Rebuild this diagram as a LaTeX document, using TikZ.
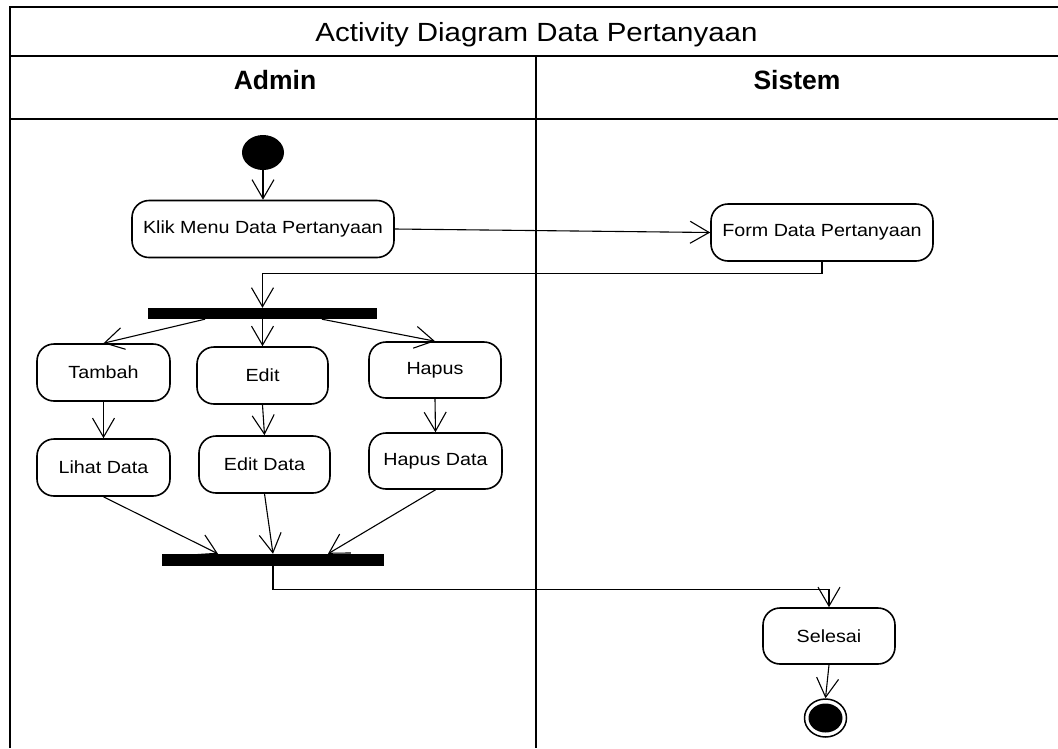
\documentclass[tikz,border=0pt]{standalone}
\usepackage{fontspec}
\setmainfont{Liberation Sans}[FakeStretch=1.12]
\newfontfamily\hdfont{Liberation Sans}
\usetikzlibrary{arrows.meta,shapes.geometric}
\begin{document}
\begin{tikzpicture}[x=1pt,y=-1pt,
  act/.style={draw, line width=1.6pt, rounded corners=17pt, minimum height=57pt, inner sep=0pt, font=\fontsize{17.6}{20}\selectfont},
  bar/.style={fill=black, inner sep=0pt},
  conn/.style={line width=1.1pt, -{Straight Barb[length=19pt,width=22pt,line width=1.1pt]}},
  frameline/.style={line width=2.4pt},
]
\useasboundingbox (0,0) rectangle (1058,748);
% frame
\draw[frameline] (10,748) -- (10,7) -- (1058,7);
\draw[frameline] (10,56) -- (1058,56);
\draw[frameline] (10,119) -- (1058,119);
\draw[frameline] (536,56) -- (536,748);
\node[anchor=base, inner sep=0pt, font=\fontsize{26.3}{30}\selectfont] (title) at (536.5,41) {Activity Diagram Data Pertanyaan};
\node[anchor=base, inner sep=0pt, font=\hdfont\bfseries\fontsize{26.5}{30}\selectfont] (admin) at (275,89) {Admin};
\node[anchor=base, inner sep=0pt, font=\hdfont\bfseries\fontsize{26.5}{30}\selectfont] (sistem) at (797,89) {Sistem};
% nodes
\node[ellipse, fill=black, inner sep=0pt, minimum width=42pt, minimum height=35pt] (start) at (263,152.5) {};
\node[act, minimum width=262pt] (klik) at (263,229) {Klik Menu Data Pertanyaan};
\node[act, minimum width=222pt] (form) at (822,232.5) {Form Data Pertanyaan};
\node[bar, minimum width=229pt, minimum height=11pt] (fork) at (262.5,313.5) {};
\node[act, minimum width=133pt] (tambah) at (103.5,372.5) {Tambah};
\node[act, minimum width=131pt] (edit) at (262.5,375.5) {Edit};
\node[act, minimum width=132pt, minimum height=56pt] (hapus) at (435,370) {Hapus};
\node[act, minimum width=133pt] (lihat) at (103.5,467.5) {Lihat Data};
\node[act, minimum width=131pt] (editdata) at (264.5,464.5) {Edit Data};
\node[act, minimum width=133pt, minimum height=56pt] (hapusdata) at (435.5,461) {Hapus Data};
\node[bar, minimum width=222pt, minimum height=12pt] (join) at (273,560) {};
\node[act, minimum width=132pt, minimum height=56pt] (selesai) at (829,636) {Selesai};
\node[ellipse, draw, line width=1.5pt, inner sep=0pt, minimum width=42pt, minimum height=38pt] (endo) at (825.5,718) {};
\node[ellipse, fill=black, inner sep=0pt, minimum width=34pt, minimum height=29pt] (endi) at (825.5,718) {};
% connectors
\draw[conn] (start.south) -- (klik.north);
\draw[conn] (klik.east) -- (form.west);
\draw[conn] (form.south) -- ++(0,12) -| (fork.north);
\draw[conn] ([xshift=-57.5pt]fork.south) -- (tambah.north);
\draw[conn] (fork.south) -- (edit.north);
\draw[conn] ([xshift=59.5pt]fork.south) -- (hapus.north);
\draw[conn] (tambah.south) -- (lihat.north);
\draw[conn] (edit.south) -- (editdata.north);
\draw[conn] (hapus.south) -- (hapusdata.north);
\draw[conn] (lihat.south) -- ([xshift=-55pt]join.north);
\draw[conn] (editdata.south) -- (join.north);
\draw[conn] (hapusdata.south) -- ([xshift=55pt]join.north);
\draw[conn] (join.south) -- ++(0,23) -| (selesai.north);
\draw[conn] (selesai.south) -- (endo.north);
\end{tikzpicture}
\end{document}
